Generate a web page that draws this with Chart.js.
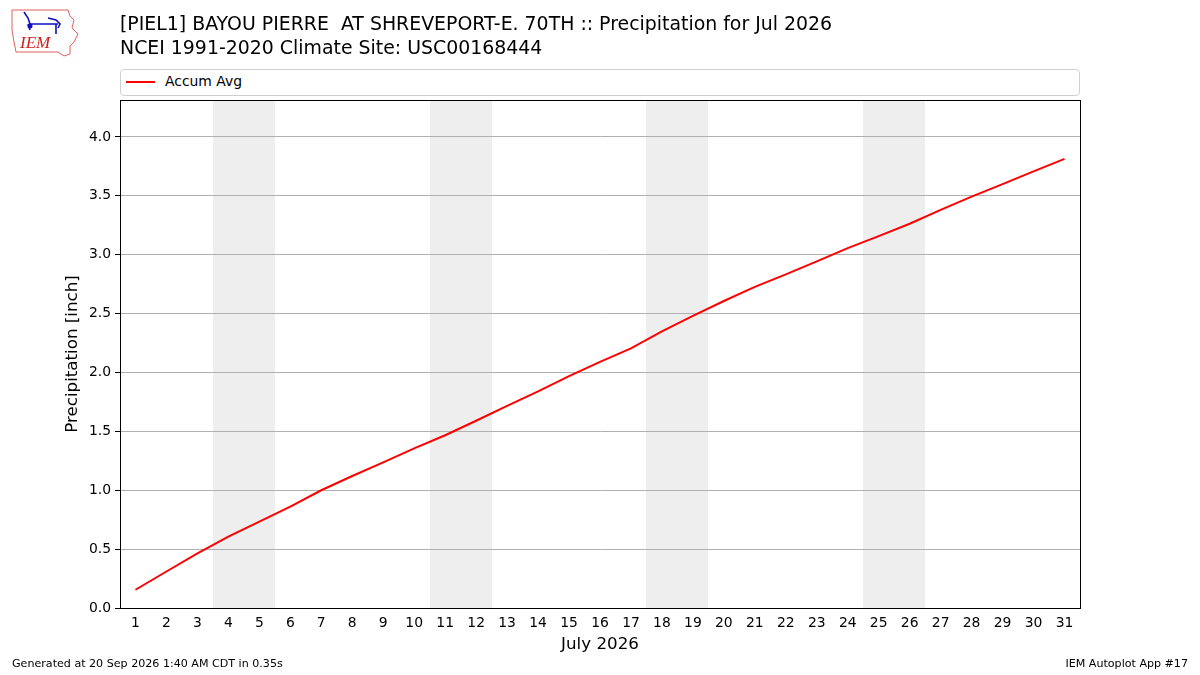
<!DOCTYPE html>
<html>
<head>
<meta charset="utf-8">
<script src="https://cdn.jsdelivr.net/npm/chart.js@4.4.1/dist/chart.umd.min.js"></script>
<style>
  body { margin: 0; background: #fff; font-family: "DejaVu Sans", sans-serif; }
  #wrap { position: relative; width: 1200px; height: 675px; overflow: hidden; }
  #c { position: absolute; left: 0; top: 0; }
  .t { position: absolute; white-space: pre; color: #000; }
  #legend { position: absolute; left: 120px; top: 69px; width: 958px; height: 25px;
            border: 1px solid #d0d0d0; border-radius: 4px; background: #fff; }
  #legend .sw { position: absolute; left: 5px; top: 11px; width: 29px; height: 2px; background: #ff0000; }
  #legend .lb { position: absolute; left: 44px; top: 3px; font-size: 13.9px; }
</style>
</head>
<body>
<div id="wrap">
  <canvas id="c" width="1200" height="675"></canvas>
  <svg style="position:absolute;left:8px;top:6px" width="72" height="52" viewBox="0 0 72 52">
    <path d="M4 4 L60 4 L62 10 L66 14 L64 22 L70 28 L66 36 L62 40 L62 48 L56 50 L50 46 L8 46 L6 36 L4 24 Z"
          fill="none" stroke="#e06060" stroke-width="1"/>
    <path d="M16 6 L20 12 L22 18 L50 18 M40 12 L48 14 L52 18 L50 22 M48 18 L48 28 M20 18 L22 24"
          fill="none" stroke="#1010c0" stroke-width="1.6"/>
    <circle cx="22" cy="20" r="2.5" fill="#1010c0"/>
    <text x="12" y="42" font-family="Liberation Serif, serif" font-style="italic" font-size="17" fill="#d02020">IEM</text>
  </svg>
  <div class="t" style="left:120px;top:12px;font-size:18.9px">[PIEL1] BAYOU PIERRE  AT SHREVEPORT-E. 70TH :: Precipitation for Jul 2026</div>
  <div class="t" style="left:120px;top:36px;font-size:18.9px">NCEI 1991-2020 Climate Site: USC00168444</div>
  <div id="legend"><div class="sw"></div><div class="lb">Accum Avg</div></div>
  <div class="t" style="left:12px;top:657px;font-size:11.1px">Generated at 20 Sep 2026 1:40 AM CDT in 0.35s</div>
  <div class="t" style="right:12px;top:657px;font-size:11.1px">IEM Autoplot App #17</div>
</div>
<script>
// days of July 2026
var days = [1,2,3,4,5,6,7,8,9,10,11,12,13,14,15,16,17,18,19,20,21,22,23,24,25,26,27,28,29,30,31];
// accumulated average precipitation [inch]
var accumAvg = [0.155,0.31,0.463,0.607,0.734,0.861,1.00,1.121,1.237,1.356,1.467,1.59,1.717,1.839,1.969,2.09,2.205,2.35,2.48,2.607,2.727,2.833,2.943,3.056,3.158,3.263,3.381,3.494,3.60,3.708,3.814];
// first day (Saturday) of each weekend, shaded through Sunday
var weekendStarts = [4,11,18,25];
var yTicks = [0,0.5,1.0,1.5,2.0,2.5,3.0,3.5,4.0];

var points = [];
for (var i in days) {
  points.push({x: days[i], y: accumAvg[i]});
}

var weekendBands = {
  id: 'weekendBands',
  beforeDraw: function(chart) {
    var ctx = chart.ctx, a = chart.chartArea, xs = chart.scales.x;
    ctx.save();
    ctx.fillStyle = '#eeeeee';
    for (var i in weekendStarts) {
      var l = Math.round(xs.getPixelForValue(weekendStarts[i] - 0.5));
      var r = Math.round(xs.getPixelForValue(weekendStarts[i] + 1.5));
      ctx.fillRect(l, a.top, r - l, a.bottom - a.top);
    }
    ctx.restore();
  }
};

var frame = {
  id: 'frame',
  afterDraw: function(chart) {
    var c = chart.ctx, a = chart.chartArea;
    c.save();
    c.strokeStyle = '#000';
    c.lineWidth = 1;
    c.strokeRect(a.left + 0.5, a.top + 0.5, a.right - a.left, a.bottom - a.top);
    c.restore();
  }
};

var ctx = document.getElementById('c');
var chart = new Chart(ctx, {
  type: 'line',
  data: {
    datasets: [{
      label: 'Accum Avg',
      data: points,
      borderColor: '#ff0000',
      borderWidth: 2,
      pointRadius: 0,
      tension: 0,
      fill: false
    }]
  },
  plugins: [weekendBands, frame],
  options: {
    responsive: false,
    animation: false,
    devicePixelRatio: 1,
    layout: { padding: { left: 60, right: 120, top: 100, bottom: 20 } },
    plugins: { legend: { display: false }, tooltip: { enabled: false } },
    scales: {
      x: {
        type: 'linear',
        min: 0.5,
        max: 31.5,
        afterBuildTicks: function(s) {
          s.ticks = days.map(function(d) { return {value: d}; });
        },
        afterFit: function(s) { s.height = 47; },
        grid: { display: false, drawOnChartArea: false, drawTicks: true, tickLength: 5, color: '#000' },
        border: { display: true, color: '#000', width: 1 },
        ticks: { color: '#000', font: { family: 'DejaVu Sans', size: 13.9 }, padding: 2, maxRotation: 0, autoSkip: false },
        title: { display: true, text: 'July 2026', color: '#000', font: { family: 'DejaVu Sans', size: 16.7 }, padding: { top: 0, bottom: 0 } }
      },
      y: {
        min: 0,
        max: 4.314,
        afterBuildTicks: function(s) {
          s.ticks = yTicks.map(function(v) { return {value: v}; });
        },
        afterFit: function(s) { s.width = 60; },
        grid: { color: '#b0b0b0', lineWidth: 1, tickLength: 5, tickColor: '#000', tickWidth: 1 },
        border: { display: true, color: '#000', width: 1 },
        ticks: { color: '#000', font: { family: 'DejaVu Sans', size: 13.9 }, padding: 4,
                 callback: function(v) { return Number(v).toFixed(1); } },
        title: { display: true, text: 'Precipitation [inch]', color: '#000', font: { family: 'DejaVu Sans', size: 16.7 }, padding: { top: 3, bottom: 0 } }
      }
    }
  }
});
</script>
</body>
</html>
